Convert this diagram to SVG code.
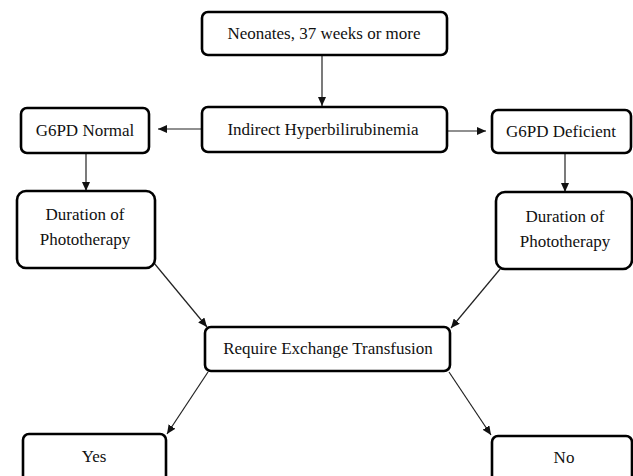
<svg xmlns="http://www.w3.org/2000/svg" width="633" height="476" viewBox="0 0 633 476">
<defs>
<style>
.box{fill:#fff;stroke:#000;stroke-width:2.6}
.lbl{font-family:"Liberation Serif","Times New Roman",serif;font-size:17px;fill:#111;text-anchor:middle}
.con{stroke:#222;stroke-width:1.2;fill:none;marker-end:url(#arr)}
</style>
<marker id="arr" markerUnits="userSpaceOnUse" markerWidth="10" markerHeight="8" refX="9" refY="4" orient="auto">
<path d="M0,0 L9,4 L0,8 Z" fill="#111"/>
</marker>
</defs>
<rect width="633" height="476" fill="#fff"/>
<g id="connectors">
<line class="con" x1="322" y1="56" x2="322" y2="106"/>
<line class="con" x1="202" y1="129" x2="158" y2="129"/>
<line class="con" x1="446" y1="131" x2="486" y2="131"/>
<line class="con" x1="86" y1="154" x2="86" y2="191"/>
<line class="con" x1="565" y1="154" x2="565" y2="192"/>
<line class="con" x1="154" y1="263" x2="207" y2="327"/>
<line class="con" x1="501" y1="268" x2="451" y2="328"/>
<line class="con" x1="208" y1="372" x2="167" y2="434"/>
<line class="con" x1="449" y1="372" x2="491" y2="435"/>
</g>
<g id="n-neonates">
<rect class="box" x="202" y="12" width="245" height="43" rx="6"/>
<text class="lbl" x="324" y="39">Neonates, 37 weeks or more</text>
</g>
<g id="n-indirect">
<rect class="box" x="202" y="107" width="245" height="45" rx="6"/>
<text class="lbl" x="323" y="135">Indirect Hyperbilirubinemia</text>
</g>
<g id="n-normal">
<rect class="box" x="21" y="108" width="128" height="45" rx="6"/>
<text class="lbl" x="85" y="136">G6PD Normal</text>
</g>
<g id="n-deficient">
<rect class="box" x="492" y="110" width="139" height="43" rx="6"/>
<text class="lbl" x="561" y="137">G6PD Deficient</text>
</g>
<g id="n-duration-left">
<rect class="box" x="17" y="191" width="138" height="77" rx="9"/>
<text class="lbl" x="85" y="220">Duration of</text>
<text class="lbl" x="85" y="245">Phototherapy</text>
</g>
<g id="n-duration-right">
<rect class="box" x="496" y="192" width="136" height="77" rx="9"/>
<text class="lbl" x="565" y="222">Duration of</text>
<text class="lbl" x="565" y="247">Phototherapy</text>
</g>
<g id="n-require">
<rect class="box" x="205" y="327" width="245" height="44" rx="6"/>
<text class="lbl" x="328" y="354">Require Exchange Transfusion</text>
</g>
<g id="n-yes">
<rect class="box" x="23" y="434" width="143" height="60" rx="6"/>
<text class="lbl" x="94" y="462">Yes</text>
</g>
<g id="n-no">
<rect class="box" x="492" y="436" width="140" height="60" rx="6"/>
<text class="lbl" x="564" y="463">No</text>
</g>
</svg>
